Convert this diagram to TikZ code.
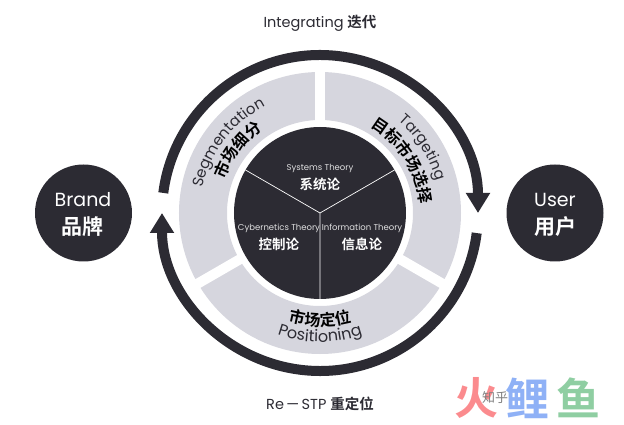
\documentclass[tikz,border=0pt]{standalone}
\usepackage{fontspec}
\setmainfont{Poppins}
\newfontfamily\cjk{Noto Sans CJK SC}
\newfontfamily\cjkb{Noto Sans CJK SC Bold}
\usetikzlibrary{arrows.meta,decorations.text}
\definecolor{darkink}{HTML}{2C2B33}
\definecolor{ringgray}{HTML}{D6D6DE}
\definecolor{markred}{HTML}{FB8B8E}
\definecolor{markblue}{HTML}{8FB1F6}
\definecolor{markgreen}{HTML}{8FCEA2}
\tikzset{
  bigdot/.style={circle,fill=darkink,minimum size=97pt,inner sep=0pt,text=white,align=center},
  flowarc/.style={->,draw=darkink,line width=10pt},
  gapline/.style={white,line width=10pt},
  theory/.style={text=white!85!darkink,font=\fontsize{8.5}{10}\selectfont,align=center,inner sep=0pt},
  theoryzh/.style={text=white,font=\cjkb\fontsize{13.5}{15}\selectfont,inner sep=0pt},
  caption/.style={text=darkink,font=\fontsize{14.5}{16}\selectfont,inner sep=0pt},
  markzh/.style={font=\cjkb\fontsize{44}{46}\selectfont,inner sep=0pt},
}
\begin{document}
\begin{tikzpicture}[x=1pt,y=1pt,>={Triangle[width=23pt,length=20pt]}]
\useasboundingbox (-320,-212) rectangle (304,213);
\coordinate (c) at (0,0);
\draw[ringgray,line width=48pt] (c) circle (117);
\foreach \a in {90,210,330} \draw[gapline] (\a:88)--(\a:146);
\node[circle,fill=darkink,minimum size=172pt,inner sep=0pt] (core) at (c) {};
\draw[white,line width=.7pt] (c)--(core.150) (c)--(core.30) (c)--(core.270);
\draw[flowarc] (172.7:158) arc (172.7:0:158);
\draw[flowarc] (-7.3:158) arc (-7.3:-180:158);
\node[bigdot] (brand) at (-236.5,0) {};
\node[bigdot] (user) at (235,0) {};
\node[text=white,font=\fontsize{19}{21}\selectfont,inner sep=0pt] (brandtxt) at (-237,13) {Brand};
\node[text=white,font=\cjkb\fontsize{21}{23}\selectfont,inner sep=0pt] (brandzh) at (-237,-14) {品牌};
\node[text=white,font=\fontsize{19}{21}\selectfont,inner sep=0pt] (usertxt) at (235,13) {User};
\node[text=white,font=\cjkb\fontsize{21}{23}\selectfont,inner sep=0pt] (userzh) at (235,-14) {用户};
\node[theory] (systems) at (0,45) {Systems Theory};
\node[theoryzh] (systemszh) at (0,29) {系统论};
\node[theory] (cyber) at (-41,-15) {Cybernetics Theory};
\node[theoryzh] (cyberzh) at (-41,-31) {控制论};
\node[theory] (info) at (42,-15) {Information Theory};
\node[theoryzh] (infozh) at (42,-31) {信息论};
\node[caption] (iter) at (0,190) {Integrating {\cjkb 迭代}};
\node[caption] (restp) at (0,-191) {Re\,---\,STP {\cjkb 重定位}};
\path[decorate,decoration={text along path,text align=center,text color=darkink,
  text={|\fontsize{15}{17}\selectfont|Segmentation}}] (175:120) arc (175:110:120);
\path[decorate,decoration={text along path,text align=center,text color=black,
  text={|\cjkb\fontsize{16}{18}\selectfont|市场细分}}] (175:101) arc (175:110:101);
\path[decorate,decoration={text along path,text align=center,text color=darkink,
  text={|\fontsize{15}{17}\selectfont|Targeting}}] (60:121) arc (60:5:121);
\path[decorate,decoration={text along path,text align=center,text color=black,
  text={|\cjkb\fontsize{16}{18}\selectfont|目标市场选择}}] (70:100) arc (70:-5:100);
\path[decorate,decoration={text along path,text align=center,text color=black,
  text={|\cjkb\fontsize{16}{18}\selectfont|市场定位}}] (-125:113) arc (-125:-55:113);
\path[decorate,decoration={text along path,text align=center,text color=darkink,
  text={|\fontsize{16}{18}\selectfont|Positioning}}] (-125:129) arc (-125:-55:129);
\node[markzh,text=markred] (huo) at (157,-185) {火};
\node[markzh,text=markblue] (li) at (207,-185) {鲤};
\node[markzh,text=markgreen] (yu) at (258,-185) {鱼};
\node[text=gray,font=\cjk\fontsize{13}{15}\selectfont,inner sep=0pt] (zhihu) at (175,-185) {知乎};
\end{tikzpicture}
\end{document}
